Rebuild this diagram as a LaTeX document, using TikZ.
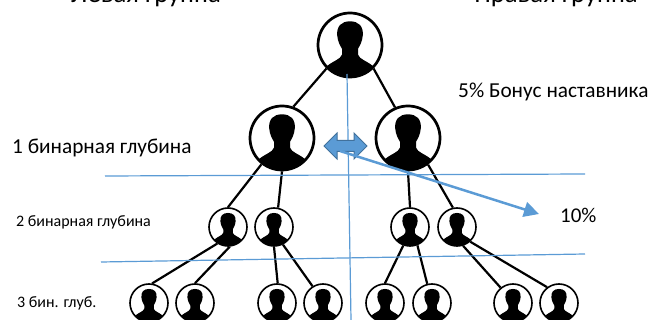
\documentclass[tikz,border=0pt]{standalone}
\usepackage{fontspec}
\setmainfont{Carlito}
\usetikzlibrary{shapes.arrows,arrows.meta}
\definecolor{blueline}{HTML}{5B9BD5}
\definecolor{blueedge}{HTML}{41719C}
\tikzset{
  person/.style={circle,draw=black,fill=white,inner sep=0pt,minimum size=2*#1 pt,
    line width=#1*0.085pt,
    path picture={
      \fill[black,shift={(path picture bounding box.center)},x=#1 pt,y=#1 pt]
        (0,0.74) .. controls (0.28,0.74) and (0.42,0.58) .. (0.40,0.30)
        .. controls (0.38,0.08) and (0.30,-0.02) .. (0.25,-0.12)
        -- (0.25,-0.30) .. controls (0.30,-0.45) and (0.50,-0.48) .. (0.72,-0.66)
        -- (0.72,-1.1) -- (-0.72,-1.1) -- (-0.72,-0.66)
        .. controls (-0.50,-0.48) and (-0.30,-0.45) .. (-0.25,-0.30)
        -- (-0.25,-0.12) .. controls (-0.30,-0.02) and (-0.38,0.08) .. (-0.40,0.30)
        .. controls (-0.42,0.58) and (-0.28,0.74) .. (0,0.74) -- cycle;
    }},
  big/.style={person=32},
  small/.style={person=19},
  link/.style={draw=black,line width=2.2pt},
  thin blue/.style={draw=blueline,line width=1.2pt},
  head/.style={font=\fontsize{26.7}{30}\selectfont,anchor=base,inner sep=0pt},
  lab/.style={anchor=base west,inner sep=0pt,text=black},
}
\begin{document}
\begin{tikzpicture}[x=1pt,y=-1pt]
\useasboundingbox (0,0) rectangle (649,320);
\node[big] (top) at (350,45) {};
\node[big] (l) at (282,138) {};
\node[big] (r) at (408,138) {};
\node[small] (a1) at (228,227) {};
\node[small] (a2) at (274,227) {};
\node[small] (a3) at (410,227) {};
\node[small] (a4) at (457,227) {};
\node[small] (b1) at (149,303) {};
\node[small] (b2) at (195,303) {};
\node[small] (b3) at (277,303) {};
\node[small] (b4) at (323,303) {};
\node[small] (b5) at (385,303) {};
\node[small] (b6) at (432,303) {};
\node[small] (b7) at (513,303) {};
\node[small] (b8) at (559,303) {};
\draw[link] (top.225) -- (l.70);
\draw[link] (top.-45) -- (r.113);
\draw[link] (l.232) -- (a1.90);
\draw[link] (l.-90) -- (a2.78);
\draw[link] (r.-90) -- (a3.90);
\draw[link] (r.-53) -- (a4.102);
\draw[link] (a1.237) -- (b1.81);
\draw[link] (a1.-85) -- (b2.90);
\draw[link] (a2.-90) -- (b3.88);
\draw[link] (a2.-63) -- (b4.122);
\draw[link] (a3.-110) -- (b5.90);
\draw[link] (a3.-68) -- (b6.104);
\draw[link] (a4.-72) -- (b7.129);
\draw[link] (a4.-48) -- (b8.127);
\coordinate (h1a) at (105,176);
\coordinate (h1b) at (585,174);
\coordinate (h2a) at (101,262);
\coordinate (h2b) at (585,254);
\coordinate (va) at (347,74);
\coordinate (vb) at (351,320);
\coordinate (ds) at (340,151);
\coordinate (de) at (539,214);
\draw[thin blue] (h1a) -- (h1b);
\draw[thin blue] (h2a) -- (h2b);
\draw[thin blue] (va) -- (vb);
\node[double arrow,fill=blueline,draw=blueedge,line width=1pt,inner xsep=0pt,inner ysep=5pt,
  minimum width=25pt,minimum height=43pt,double arrow head extend=7.5pt,
  double arrow head indent=0pt] (dbl) at (345.5,146) {};
\draw[draw=blueline,line width=2.5pt,-{Triangle[length=15pt,width=15pt]}] (ds) -- (de);
\node[head] (t1) at (146,3) {Левая группа};
\node[head] (t2) at (556,3) {Правая группа};
\node[lab,font=\fontsize{21.3}{24}\selectfont] (c1) at (12,153.5) {1 бинарная глубина};
\node[lab,font=\fontsize{21.3}{24}\selectfont] (c2) at (458,98) {5\% Бонус наставника};
\node[lab,font=\fontsize{16}{19}\selectfont] (c3) at (16,226.5) {2 бинарная глубина};
\node[lab,font=\fontsize{16}{19}\selectfont] (c4) at (17,308) {3 бин. глуб.};
\node[lab,font=\fontsize{21}{24}\selectfont] (c5) at (560,223) {10\%};
\end{tikzpicture}
\end{document}
